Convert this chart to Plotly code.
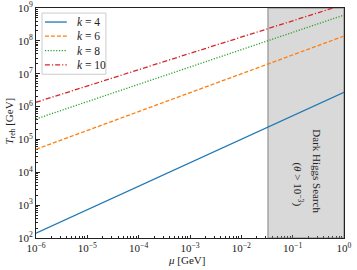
import plotly.graph_objects as go

mu_ends = [1e-6, 1e0]
k_labels = ["4", "6", "8", "10"]
T_k4 = [1.4e2, 2.7e6]
T_k6 = [5.0e4, 1.4e8]
T_k8 = [4.2e5, 6.1e8]
T_k10 = [1.35e6, 1.28e9]
series = [T_k4, T_k6, T_k8, T_k10]
colors = ["#1f77b4", "#ff7f0e", "#2ca02c", "#d62728"]
dashes = ["solid", "4px,2px", "1.2px,1.6px", "5px,2px,1.2px,2px"]

region_x = [0.033, 1.0]
y_range = [1e2, 1e9]

x_ticks = [1e-6, 1e-5, 1e-4, 1e-3, 1e-2, 1e-1, 1e0]
x_ticktext = ["10<sup>−6</sup>", "10<sup>−5</sup>", "10<sup>−4</sup>", "10<sup>−3</sup>",
              "10<sup>−2</sup>", "10<sup>−1</sup>", "10<sup>0</sup>"]
y_ticks = [1e2, 1e3, 1e4, 1e5, 1e6, 1e7, 1e8, 1e9]
y_ticktext = ["10<sup>%d</sup>" % e for e in range(2, 10)]

FONT = "Liberation Serif"
TXT = "#222"
FS = 11

fig = go.Figure()

fig.add_trace(go.Scatter(
    x=[region_x[0], region_x[1], region_x[1], region_x[0], region_x[0]],
    y=[y_range[0], y_range[0], y_range[1], y_range[1], y_range[0]],
    fill="toself", fillcolor="rgba(140,140,140,0.33)",
    line=dict(color="rgba(120,120,120,0.6)", width=1.5),
    mode="lines", showlegend=False, hoverinfo="skip"))

for lab, ys, c, d in zip(k_labels, series, colors, dashes):
    fig.add_trace(go.Scatter(
        x=mu_ends, y=ys, mode="lines",
        line=dict(color=c, width=1.3, dash=d),
        name="<i>k</i> = " + lab, showlegend=False))

# legend box (manual, matplotlib style)
fig.add_shape(type="rect", xref="paper", yref="paper", x0=0.0195, x1=0.227, y0=0.712, y1=0.978,
              fillcolor="rgba(255,255,255,0.85)", line=dict(color="#cccccc", width=1), layer="above")
leg_y = [0.939, 0.878, 0.815, 0.753]
for lab, c, d, yy in zip(k_labels, colors, dashes, leg_y):
    fig.add_shape(type="line", xref="paper", yref="paper", x0=0.029, x1=0.1, y0=yy, y1=yy,
                  line=dict(color=c, width=1.3, dash=d), layer="above")
    fig.add_annotation(x=0.125, y=yy, xref="paper", yref="paper", xanchor="left", yanchor="middle",
                       text="<i>k</i> = " + lab, showarrow=False,
                       font=dict(family=FONT, size=11.5, color=TXT))

fig.add_annotation(x=-0.526, y=4.03, xref="x", yref="y", text="Dark Higgs Search",
                   textangle=90, showarrow=False, font=dict(family=FONT, size=FS, color=TXT))
fig.add_annotation(x=-0.896, y=3.63, xref="x", yref="y",
                   text="(<i>θ</i> &gt; 10<sup>−3</sup>)",
                   textangle=90, showarrow=False, font=dict(family=FONT, size=FS, color=TXT))

# axis titles
fig.add_annotation(x=0.49, y=-0.095, xref="paper", yref="paper", text="<i>μ</i> [GeV]",
                   showarrow=False, xanchor="center", yanchor="middle",
                   font=dict(family=FONT, size=FS, color=TXT))
fig.add_annotation(x=-0.085, y=0.51, xref="paper", yref="paper",
                   text="<i>T</i><sub>reh</sub> [GeV]", textangle=-90,
                   showarrow=False, xanchor="center", yanchor="middle",
                   font=dict(family=FONT, size=FS, color=TXT))

axis_common = dict(
    showline=True, linecolor=TXT, linewidth=1, mirror=True,
    ticks="inside", ticklen=3.5, tickwidth=0.8, tickcolor=TXT,
    showgrid=False, zeroline=False, layer="below traces", automargin=False,
    tickfont=dict(family=FONT, size=FS, color=TXT),
)

fig.update_xaxes(type="log", range=[-6, 0], tickvals=x_ticks, ticktext=x_ticktext,
                 minor=dict(ticks="inside", ticklen=2, tickwidth=0.6, tickcolor=TXT,
                            dtick="D1", showgrid=False),
                 **axis_common)
fig.update_yaxes(type="log", range=[2, 9], tickvals=y_ticks, ticktext=y_ticktext,
                 minor=dict(ticks="inside", ticklen=2, tickwidth=0.6, tickcolor=TXT,
                            dtick="D1", showgrid=False),
                 **axis_common)

fig.update_layout(
    width=357, height=270,
    margin=dict(l=36, r=13, t=8, b=32, pad=0),
    paper_bgcolor="white", plot_bgcolor="white",
    font=dict(family=FONT, size=FS, color=TXT),
    showlegend=False,
)

fig.write_html("out.html", config={"displayModeBar": False},
               post_script="document.body.style.margin='0';document.body.style.padding='0';")
